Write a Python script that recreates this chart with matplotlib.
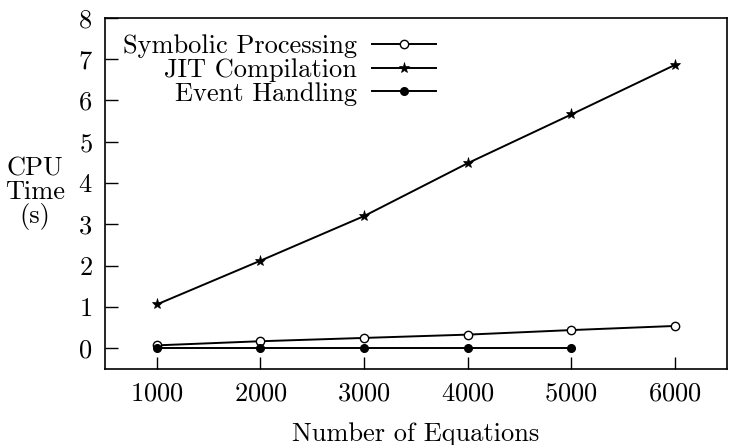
import matplotlib
matplotlib.use("Agg")
import matplotlib.pyplot as plt

# data
equations = [1000, 2000, 3000, 4000, 5000, 6000]
symbolic = [0.07, 0.17, 0.25, 0.33, 0.44, 0.54]
jit = [1.06, 2.12, 3.2, 4.48, 5.66, 6.86]
event_eq = [1000, 2000, 3000, 4000, 5000]
event = [0.01, 0.01, 0.01, 0.01, 0.01]

plt.rcParams['font.family'] = ['cmr10', 'DejaVu Serif']
plt.rcParams['mathtext.fontset'] = 'cm'
plt.rcParams['axes.formatter.use_mathtext'] = True
plt.rcParams['font.size'] = 19

fig = plt.figure(figsize=(7.29, 4.45), dpi=100)
ax = fig.add_axes([0.144, 0.171, 0.853, 0.789])

ax.plot(equations, symbolic, color='black', lw=1.4, marker='o', ms=6,
        mfc='white', mec='black', mew=1.0, label='Symbolic Processing')
ax.plot(equations, jit, color='black', lw=1.4, marker='*', ms=8,
        mfc='black', mec='black', mew=0.5, label='JIT Compilation')
ax.plot(event_eq, event, color='black', lw=1.4, marker='o', ms=5.5,
        mfc='black', mec='black', label='Event Handling')

ax.set_xlim(500, 6500)
ax.set_ylim(-0.5, 8)
ax.set_xticks(equations)
ax.set_yticks(range(0, 9))
ax.tick_params(direction='in', length=9, width=1, top=False, right=False, pad=9)
for s in ax.spines.values():
    s.set_linewidth(1.2)

ax.set_xlabel('Number of Equations', labelpad=12)
ax.set_ylabel('CPU\nTime\n(s)', rotation=0, ha='center', va='center',
              linespacing=0.95)
ax.yaxis.set_label_coords(-0.113, 0.5)

ax.legend(loc='upper left', bbox_to_anchor=(-0.01, 1.02), frameon=False,
          markerfirst=False, numpoints=1, handlelength=2.4,
          labelspacing=0.0, handletextpad=0.6)

fig.savefig('out.png', dpi=100)
